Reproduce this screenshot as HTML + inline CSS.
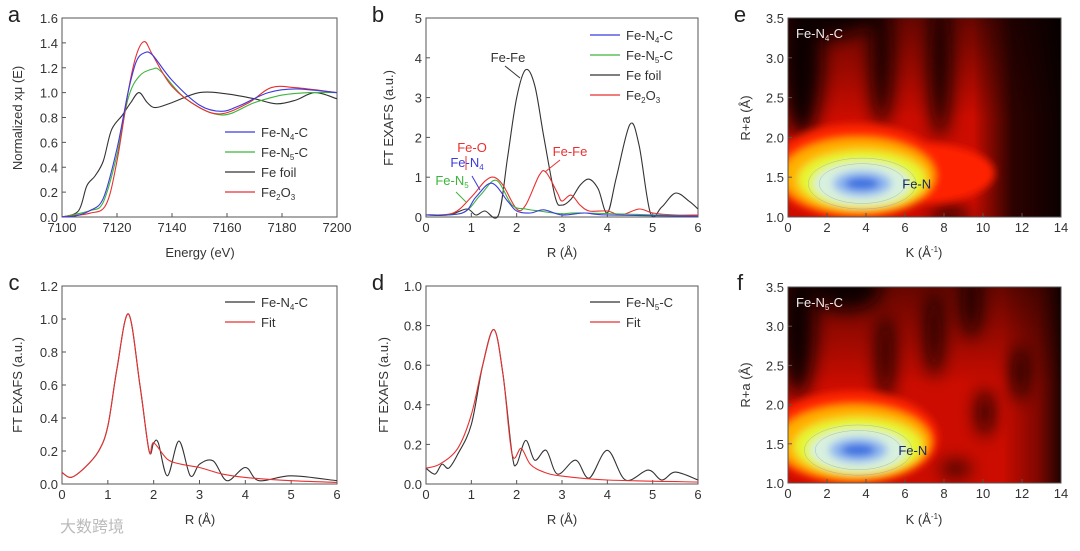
<!DOCTYPE html>
<html><head><meta charset="utf-8"><style>
body{margin:0;background:#fff;width:1080px;height:546px;overflow:hidden;font-family:"Liberation Sans","Noto Sans CJK SC",sans-serif}
svg text{font-family:"Liberation Sans","Noto Sans CJK SC",sans-serif}
</style></head><body>
<svg id="fig" width="1080" height="546" viewBox="0 0 1080 546" xmlns="http://www.w3.org/2000/svg">
<defs>
<filter id="blur8" x="-50%" y="-50%" width="200%" height="200%"><feGaussianBlur stdDeviation="9"/></filter>
<filter id="blur4" x="-50%" y="-50%" width="200%" height="200%"><feGaussianBlur stdDeviation="4"/></filter>
<clipPath id="clipE"><rect x="788" y="18" width="273" height="199"/></clipPath>
<clipPath id="clipF"><rect x="788" y="287" width="273" height="196"/></clipPath>
<linearGradient id="rightE" x1="0" x2="1" y1="0" y2="0"><stop offset="0" stop-color="#000" stop-opacity="0"/><stop offset="0.45" stop-color="#100000" stop-opacity="0.85"/><stop offset="1" stop-color="#000" stop-opacity="0.95"/></linearGradient>
<linearGradient id="rightF" x1="0" x2="1" y1="0" y2="0"><stop offset="0" stop-color="#000" stop-opacity="0"/><stop offset="0.6" stop-color="#100000" stop-opacity="0.4"/><stop offset="1" stop-color="#000" stop-opacity="0.85"/></linearGradient>
<linearGradient id="leftTop" x1="0" x2="0" y1="0" y2="1"><stop offset="0" stop-color="#000" stop-opacity="0.5"/><stop offset="1" stop-color="#000" stop-opacity="0"/></linearGradient>
</defs>
</svg>
<script>
// ---- data ----
const aEnergy = [7100,7105,7110,7115,7120,7124,7127,7130,7133,7140,7150,7158,7165,7175,7185,7200];
const aN4 = [0,0.01,0.05,0.15,0.55,1.0,1.25,1.32,1.3,1.1,0.9,0.85,0.9,1.0,1.03,1.0];
const aN5E = [7100,7110,7115,7120,7124,7128,7133,7136,7145,7158,7170,7180,7190,7200];
const aN5 = [0,0.05,0.12,0.5,0.95,1.13,1.19,1.17,0.95,0.82,0.92,0.98,1.0,1.0];
const aFoilE = [7100,7106,7109,7112,7115,7118,7122,7125,7128,7131,7134,7140,7150,7160,7170,7178,7185,7192,7200];
const aFoil = [0,0.05,0.25,0.33,0.45,0.7,0.82,0.92,1.0,0.92,0.88,0.92,1.0,0.99,0.95,0.91,0.94,1.0,0.95];
const aOxE = [7100,7110,7116,7120,7124,7127,7130,7133,7140,7150,7158,7168,7176,7185,7200];
const aOx = [0,0.03,0.1,0.45,1.0,1.3,1.41,1.3,1.05,0.88,0.83,0.92,1.04,1.04,1.0];

const bFoilR = [0,0.5,0.9,1.1,1.3,1.6,1.8,2.0,2.2,2.4,2.6,2.85,3.0,3.2,3.4,3.6,3.8,4.0,4.2,4.5,4.7,4.95,5.2,5.5,5.8,6];
const bFoil = [0.05,0.05,0.2,0.05,0.15,0.05,1.5,3.0,3.7,3.3,2.0,0.5,0.3,0.45,0.8,0.95,0.7,0.1,1.0,2.33,1.8,0.1,0.25,0.6,0.4,0.2];
const bOxR = [0,0.6,1.0,1.3,1.5,1.7,2.0,2.2,2.5,2.65,2.9,3.0,3.2,3.4,3.6,4.0,4.3,4.7,5.0,5.5,6];
const bOx = [0.05,0.1,0.5,0.9,1.0,0.8,0.2,0.3,1.05,1.12,0.6,0.4,0.55,0.3,0.15,0.15,0.05,0.2,0.1,0.05,0.05];
const bN4R = [0,0.8,1.1,1.45,1.8,2.0,2.3,2.6,3.0,3.5,4,6];
const bN4 = [0.05,0.1,0.5,0.85,0.4,0.15,0.1,0.18,0.05,0.1,0.05,0.02];
const bN5R = [0,0.8,1.2,1.55,1.9,2.2,2.5,3,3.5,6];
const bN5 = [0.05,0.1,0.55,0.92,0.3,0.2,0.15,0.08,0.1,0.02];

const cR = [0,0.2,0.5,0.8,1.0,1.2,1.45,1.7,1.9,2.0,2.1,2.3,2.55,2.8,3.0,3.3,3.6,4.0,4.3,5.0,6];
const cData = [0.07,0.04,0.1,0.2,0.35,0.7,1.03,0.6,0.2,0.25,0.25,0.05,0.26,0.05,0.12,0.14,0.02,0.1,0.02,0.05,0.02];
const cFitR = [0,0.2,0.5,0.8,1.0,1.2,1.45,1.7,1.9,2.0,2.3,2.6,3,3.5,4,5,6];
const cFit = [0.07,0.04,0.1,0.2,0.35,0.7,1.03,0.6,0.2,0.25,0.15,0.12,0.1,0.06,0.04,0.02,0.01];

const dR = [0,0.2,0.35,0.5,0.7,1.0,1.25,1.5,1.7,1.9,2.0,2.2,2.4,2.65,2.9,3.3,3.6,4.0,4.4,4.9,5.2,5.5,6];
const dData = [0.08,0.05,0.1,0.08,0.15,0.3,0.6,0.78,0.55,0.15,0.1,0.22,0.12,0.17,0.05,0.12,0.03,0.17,0.02,0.07,0.02,0.06,0.02];
const dFitR = [0,0.3,0.7,1.0,1.25,1.5,1.7,1.9,2.1,2.3,2.6,3,4,6];
const dFit = [0.08,0.1,0.18,0.35,0.6,0.78,0.55,0.15,0.18,0.1,0.06,0.04,0.02,0.01];

const kTicks = [0,2,4,6,8,10,12,14];
const rTicks = ["1.0","1.5","2.0","2.5","3.0","3.5"];
const eHot = [3.8,1.42];
const fHot = [3.6,1.42];

// ---- helpers ----
const NS="http://www.w3.org/2000/svg";
const svg=document.getElementById('fig');
function mk(tag,attrs,parent){const e=document.createElementNS(NS,tag);for(const k in attrs)e.setAttribute(k,attrs[k]);(parent||svg).appendChild(e);return e;}
function txt(x,y,s,size,anchor,fill,parent){const t=mk('text',{x:x,y:y,'font-size':size,'text-anchor':anchor||'middle',fill:fill||'#333'},parent);t.innerHTML=s;return t;}
function axis(x0,x1,y0,y1,xmin,xmax,ymin,ymax){return {sx:v=>x0+(v-xmin)/(xmax-xmin)*(x1-x0),sy:v=>y1-(v-ymin)/(ymax-ymin)*(y1-y0),x0,x1,y0,y1};}
function smooth(pts){let d='M'+pts[0][0].toFixed(1)+','+pts[0][1].toFixed(1);
 for(let i=0;i<pts.length-1;i++){const p0=pts[Math.max(0,i-1)],p1=pts[i],p2=pts[i+1],p3=pts[Math.min(pts.length-1,i+2)];
  const c1=[p1[0]+(p2[0]-p0[0])/6,p1[1]+(p2[1]-p0[1])/6],c2=[p2[0]-(p3[0]-p1[0])/6,p2[1]-(p3[1]-p1[1])/6];
  d+=' C'+c1[0].toFixed(1)+','+c1[1].toFixed(1)+' '+c2[0].toFixed(1)+','+c2[1].toFixed(1)+' '+p2[0].toFixed(1)+','+p2[1].toFixed(1);}return d;}
function line(ax,xs,ys,color,name){const p=mk('path',{d:smooth(xs.map((x,i)=>[ax.sx(x),ax.sy(ys[i])])),fill:'none',stroke:color,'stroke-width':1.1});
 
 return p;}
function frame(ax,xt,xl,yt,yl,name){
 const g=mk('g',{});
 
 
 mk('rect',{x:ax.x0,y:ax.y0,width:ax.x1-ax.x0,height:ax.y1-ax.y0,fill:'none',stroke:'#555','stroke-width':1},g);
 xt.forEach((v,i)=>{const x=ax.sx(v);mk('line',{x1:x,x2:x,y1:ax.y1,y2:ax.y1-4,stroke:'#555'},g);txt(x,ax.y1+15,xl[i],13,'middle','#333',g);});
 yt.forEach((v,i)=>{const y=ax.sy(v);mk('line',{x1:ax.x0,x2:ax.x0+4,y1:y,y2:y,stroke:'#555'},g);txt(ax.x0-4,y+5,yl[i],13,'end','#333',g);});
 return g;}
function legend(x,y,items,name){const g=mk('g',{});
 
 
 items.forEach((it,i)=>{mk('line',{x1:x,x2:x+30,y1:y+i*20,y2:y+i*20,stroke:it[1],'stroke-width':1.2},g);txt(x+36,y+i*20+5,it[0],13,'start','#333',g);});}
const N4='Fe-N<tspan font-size="8" dy="3">4</tspan><tspan dy="-3">-C</tspan>';
const N5='Fe-N<tspan font-size="8" dy="3">5</tspan><tspan dy="-3">-C</tspan>';
const O3='Fe<tspan font-size="8" dy="3">2</tspan><tspan dy="-3">O</tspan><tspan font-size="8" dy="3">3</tspan>';
const BL='#3a3ae0',GR='#3cb43c',BK='#333',RD='#e83030';

// ---- panel a ----
let A=axis(62,337,18,217,7100,7200,0,1.6);
frame(A,[7100,7120,7140,7160,7180,7200],['7100','7120','7140','7160','7180','7200'],[0,0.2,0.4,0.6,0.8,1,1.2,1.4,1.6],['0.0','0.2','0.4','0.6','0.8','1.0','1.2','1.4','1.6'],'panel-a-axes');
line(A,aFoilE,aFoil,BK,'a-fe-foil-line');line(A,aN5E,aN5,GR,'a-fe-n5-line');line(A,aOxE,aOx,RD,'a-fe2o3-line');line(A,aEnergy,aN4,BL,'a-fe-n4-line');
legend(225,132,[[N4,BL],[N5,GR],['Fe foil',BK],[O3,RD]],'a-legend');
txt(200,257,'Energy (eV)',13,'middle','#333');
let t=txt(0,0,'Normalized xμ (E)',13,'middle','#333');t.setAttribute('transform','translate(22,118) rotate(-90)');
txt(14,22,'a',22,'middle','#222');

// ---- panel b ----
let B=axis(426,698,18,217,0,6,0,5);
frame(B,[0,1,2,3,4,5,6],['0','1','2','3','4','5','6'],[0,1,2,3,4,5],['0','1','2','3','4','5'],'panel-b-axes');
line(B,bFoilR,bFoil,BK,'b-fe-foil-line');line(B,bOxR,bOx,RD,'b-fe2o3-line');line(B,bN5R,bN5,GR,'b-fe-n5-line');line(B,bN4R,bN4,BL,'b-fe-n4-line');
legend(590,35,[[N4,BL],[N5,GR],['Fe foil',BK],[O3,RD]],'b-legend');
txt(508,62,'Fe-Fe',13,'middle','#333');mk('line',{x1:505,y1:66,x2:520,y2:78,stroke:'#333'});
txt(472,152,'Fe-O',13,'middle',RD);mk('line',{x1:466,y1:156,x2:466,y2:170,stroke:RD});
txt(467,167,'Fe-N<tspan font-size="8" dy="3">4</tspan>',13,'middle',BL);mk('line',{x1:472,y1:176,x2:480,y2:190,stroke:BL});
txt(452,185,'Fe-N<tspan font-size="8" dy="3">5</tspan>',13,'middle',GR);mk('line',{x1:456,y1:192,x2:466,y2:202,stroke:GR});
txt(570,156,'Fe-Fe',13,'middle',RD);mk('line',{x1:560,y1:160,x2:545,y2:172,stroke:RD});
txt(562,257,'R (Å)',13,'middle','#333');
t=txt(0,0,'FT EXAFS (a.u.)',13,'middle','#333');t.setAttribute('transform','translate(393,118) rotate(-90)');
txt(378,22,'b',22,'middle','#222');

// ---- panel c ----
let C=axis(62,337,286,484,0,6,0,1.2);
frame(C,[0,1,2,3,4,5,6],['0','1','2','3','4','5','6'],[0,0.2,0.4,0.6,0.8,1,1.2],['0.0','0.2','0.4','0.6','0.8','1.0','1.2'],'panel-c-axes');
line(C,cR,cData,BK,'c-data-line');line(C,cFitR,cFit,RD,'c-fit-line');
legend(225,302,[[N4,BK],['Fit',RD]],'c-legend');
txt(200,524,'R (Å)',13,'middle','#333');
t=txt(0,0,'FT EXAFS (a.u.)',13,'middle','#333');t.setAttribute('transform','translate(22,385) rotate(-90)');
txt(14,290,'c',22,'middle','#222');

// ---- panel d ----
let D=axis(426,698,286,484,0,6,0,1.0);
frame(D,[0,1,2,3,4,5,6],['0','1','2','3','4','5','6'],[0,0.2,0.4,0.6,0.8,1],['0.0','0.2','0.4','0.6','0.8','1.0'],'panel-d-axes');
line(D,dR,dData,BK,'d-data-line');line(D,dFitR,dFit,RD,'d-fit-line');
legend(590,302,[[N5,BK],['Fit',RD]],'d-legend');
txt(562,524,'R (Å)',13,'middle','#333');
t=txt(0,0,'FT EXAFS (a.u.)',13,'middle','#333');t.setAttribute('transform','translate(388,385) rotate(-90)');
txt(378,290,'d',22,'middle','#222');

// ---- heatmaps ----
function heat(ax,hot,clip,name,label,variant){
 const g=mk('g',{'clip-path':'url(#'+clip+')'});
 
 
 const kx=v=>v/14*273, ry=v=>v/2.5*(ax.y1-ax.y0);
 mk('rect',{x:ax.x0,y:ax.y0,width:ax.x1-ax.x0,height:ax.y1-ax.y0,fill:'#cc0c00'},g);
 mk('rect',{x:ax.x0,y:ax.y0,width:ax.x1-ax.x0,height:(ax.y1-ax.y0)*0.5,fill:'url(#leftTop)'},g);
 const dk=mk('g',{filter:'url(#blur8)'},g);
 const spots = variant==='e' ? [[0.7,3.0,1.1,1.0],[4.8,3.0,0.55,0.85],[7.8,2.9,0.55,0.9],[8.3,1.0,1.0,0.1],[2,3.6,2.5,0.35]]
  : [[0.5,3.0,0.9,0.9],[3,3.5,1.8,0.3],[5,2.6,0.4,0.55],[7.5,2.9,0.4,0.55],[10.1,1.9,0.4,0.3],[11.9,2.4,0.4,0.35],[8.6,1.18,0.8,0.08],[9.4,3.3,0.45,0.45]];
 spots.forEach(s=>mk('ellipse',{cx:ax.sx(s[0]),cy:ax.sy(s[1]),rx:kx(s[2]),ry:ry(s[3]),fill:'#100000'},dk));
 mk('rect',{x:ax.sx(variant==='e'?9.5:11),y:ax.y0,width:kx(variant==='e'?4.5:3),height:ax.y1-ax.y0,fill:variant==='e'?'url(#rightE)':'url(#rightF)'},g);
 const hb=mk('g',{filter:'url(#blur4)'},g);
 const [hk,hr]=hot;
 if(variant==='e'){mk('ellipse',{cx:ax.sx(6.8),cy:ax.sy(1.55),rx:kx(3.8),ry:ry(0.38),fill:'#ff2000'},hb);}
 mk('ellipse',{cx:ax.sx(hk-0.3),cy:ax.sy(hr+0.15),rx:kx(4.4),ry:ry(0.6),fill:'#ff2800'},hb);
 mk('ellipse',{cx:ax.sx(hk-0.2),cy:ax.sy(hr+0.1),rx:kx(3.9),ry:ry(0.47),fill:'#ffb000'},hb);
 mk('ellipse',{cx:ax.sx(hk),cy:ax.sy(hr+0.05),rx:kx(3.3),ry:ry(0.37),fill:'#e6f530'},hb);
 mk('ellipse',{cx:ax.sx(hk),cy:ax.sy(hr),rx:kx(2.5),ry:ry(0.27),fill:'#d8f0e0'},hb);
 mk('ellipse',{cx:ax.sx(hk),cy:ax.sy(hr),rx:kx(1.5),ry:ry(0.16),fill:'#90b8f0'},hb);
 mk('ellipse',{cx:ax.sx(hk),cy:ax.sy(hr),rx:kx(0.9),ry:ry(0.08),fill:'#3a70e0'},hb);
 [0.1,0.17].forEach(dr=>mk('ellipse',{cx:ax.sx(hk),cy:ax.sy(hr),rx:kx(1.4+dr*8),ry:ry(0.15+dr),fill:'none',stroke:'#6090d0','stroke-width':0.5,opacity:0.5},g));
 txt(ax.sx(hk+2.8),ax.sy(hr)+5,'Fe-N',13,'middle','#1a2a60',g);
 txt(ax.x0+8,ax.y0+20,label,13,'start','#eee',g);
}
function hframe(ax,name){
 frame(ax,kTicks,kTicks.map(String),[1,1.5,2,2.5,3,3.5],rTicks,name);}
let E=axis(788,1061,18,217,0,14,1.0,3.5);
heat(E,eHot,'clipE','e-heatmap',N4,'e');hframe(E,'panel-e-axes');
txt(924,257,'K (Å<tspan font-size="8" dy="-5">-1</tspan><tspan dy="5">)</tspan>',13,'middle','#333');
t=txt(0,0,'R+a (Å)',13,'middle','#333');t.setAttribute('transform','translate(750,118) rotate(-90)');
txt(740,22,'e',22,'middle','#222');
let F=axis(788,1061,287,483,0,14,1.0,3.5);
heat(F,fHot,'clipF','f-heatmap',N5,'f');hframe(F,'panel-f-axes');
txt(924,524,'K (Å<tspan font-size="8" dy="-5">-1</tspan><tspan dy="5">)</tspan>',13,'middle','#333');
t=txt(0,0,'R+a (Å)',13,'middle','#333');t.setAttribute('transform','translate(750,385) rotate(-90)');
txt(740,290,'f',22,'middle','#222');

// watermark
txt(60,532,'大数跨境',16,'start','#bbb');
</script>
</body></html>
